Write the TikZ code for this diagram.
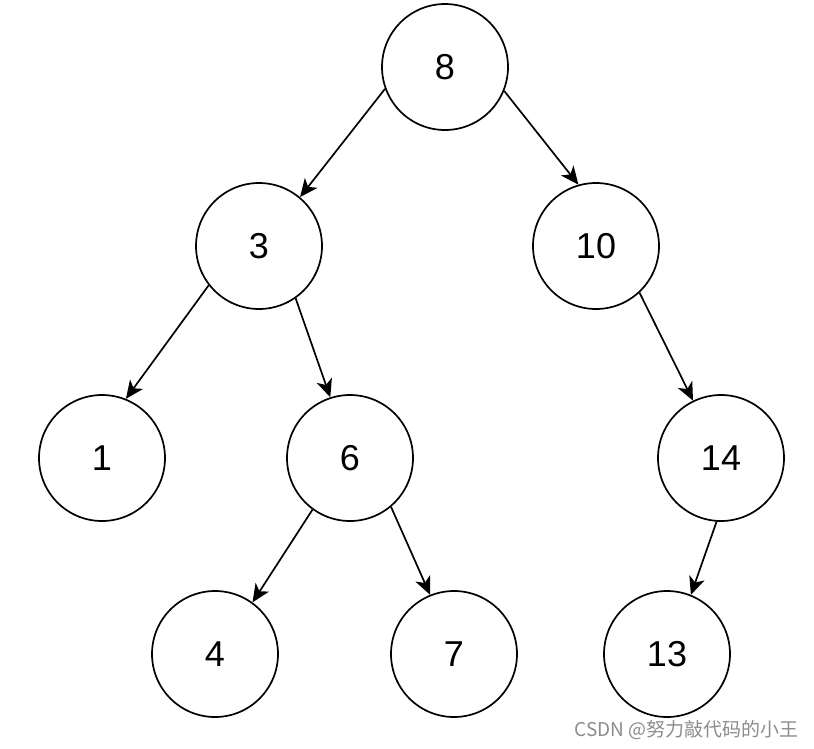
\documentclass[tikz,border=0pt]{standalone}
\usepackage{fontspec}
\setmainfont{Liberation Sans}
\newfontfamily\cjk{Noto Sans CJK SC}
\usetikzlibrary{arrows.meta}
\begin{document}
\begin{tikzpicture}[x=1pt,y=-1pt,
  tnode/.style={circle,draw=black,line width=1.7pt,minimum size=126pt,inner sep=0pt,
    font=\fontsize{36}{40}\selectfont},
  edge/.style={line width=1.7pt,-{Stealth[length=18pt,width=16pt,inset=5pt]}}]
\useasboundingbox (0,0) rectangle (814,748);
\node[tnode] (n8) at (445,67) {8};
\node[tnode] (n3) at (259,246) {3};
\node[tnode] (n10) at (596,246) {10};
\node[tnode] (n1) at (102,458) {1};
\node[tnode] (n6) at (350,458) {6};
\node[tnode] (n14) at (721,458) {14};
\node[tnode] (n4) at (215,654) {4};
\node[tnode] (n7) at (454,654) {7};
\node[tnode] (n13) at (667,654) {13};
\draw[edge] (n8.200) -- (n3.50);
\draw[edge] (n8.338) -- (n10.106);
\draw[edge] (n3.218) -- (n1.68);
\draw[edge] (n3.305) -- (n6.108);
\draw[edge] (n10.313) -- (n14.116);
\draw[edge] (n6.234) -- (n4.54);
\draw[edge] (n6.310) -- (n7.112);
\draw[edge] (n14.266) -- (n13.68);
\node[anchor=east,text=black!45,font=\cjk\fontsize{19}{22}\selectfont,inner sep=0pt] (wm) at (799,730) {CSDN @努力敲代码的小王};
\end{tikzpicture}
\end{document}
